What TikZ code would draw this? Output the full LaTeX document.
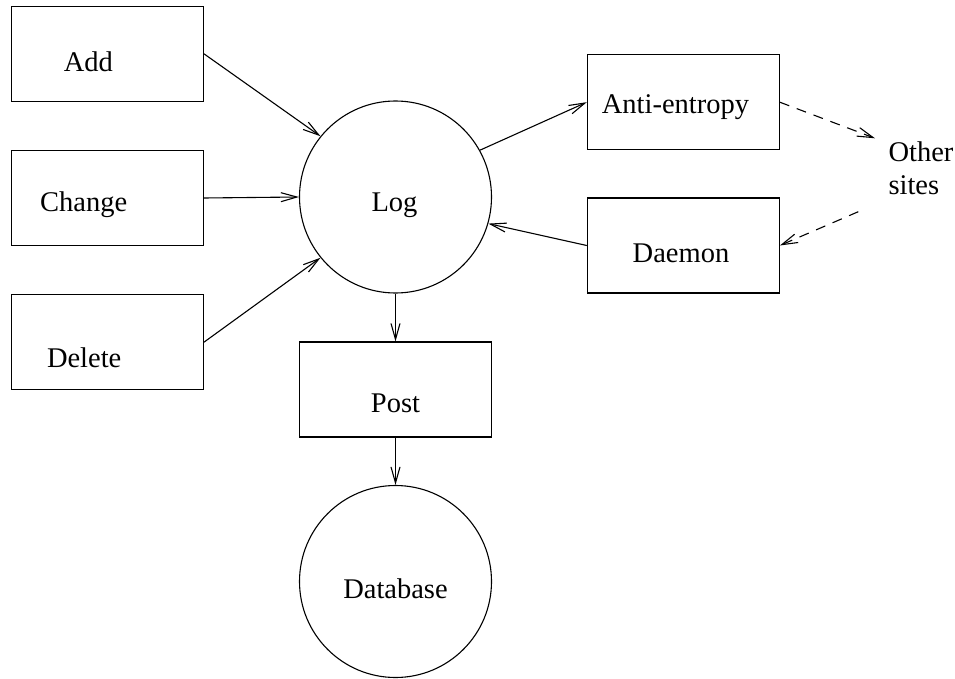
\documentclass[tikz,border=0pt]{standalone}
\usepackage{fontspec}
\setmainfont{Liberation Serif}
\usetikzlibrary{positioning, arrows.meta}
\tikzset{
	box/.style={
		rectangle,
		draw,
		minimum width=192pt,
		minimum height=95pt,
	},
	blob/.style={
		circle,
		draw,
		minimum size=192pt,
	},
	txt/.style={
		anchor=base,
		inner sep=0pt,
	},
	remote/.style={
		->,
		dash pattern=on 10pt off 8pt,
	},
}

\begin{document}
\begin{tikzpicture}[x=1pt, y=-1pt, node distance=144.2pt, line width=1.1pt,
		>={Straight Barb[length=16pt,width=9pt]},
		font=\fontsize{28.5pt}{33.3pt}\selectfont]
		\useasboundingbox (0,0) rectangle (955,679);

		% Place nodes
		\node [box, label={[txt, xshift=-19pt, yshift=-8.2pt]center:Add}] (add) at (107.4,53.8) {};
		\node [box, below of = add, label={[txt, xshift=-23.7pt, yshift=-7pt]center:Change}] (change) {};
		\node [box, below of = change, label={[txt, xshift=-23.2pt, yshift=-16pt]center:Delete}] (delete) {};

		\node [blob, label={[txt, xshift=-1pt, yshift=-8pt]center:Log}] (log) at (395.5,197) {};
		\node [box, below of = log, node distance=192.5pt, label={[txt, yshift=-13.8pt]center:Post}] (post) {};
		\node [blob, below of = post, node distance=192pt, label={[txt, yshift=-7pt]center:Database}] (db) {};

		\node [box, label={[txt, xshift=-7.8pt, yshift=-4.5pt]center:Anti-entropy}] (anti) at (683.3,102.2) {};
		\node [box, below of = anti, node distance=143.3pt, label={[txt, xshift=-2.3pt, yshift=-7.8pt]center:Daemon}] (daemon) {};

		\node [anchor=base west, align=left, inner sep=0pt] (other) at (888,195) {Other\\sites};
		\coordinate (toother) at (875,138.3);
		\coordinate (fromother) at (858.3,211.7);

		% Connectors
		\draw [->] (add.east) -- (log.141);
		\draw [->] (change.east) -- (log.west);
		\draw [->] (delete.east) -- (log.219);

		\draw [->] (log.29) -- (anti.west);
		\draw [->] (daemon.west) -- (log.344);
		\draw [remote] (anti.east) -- (toother);
		\draw [remote] (fromother) -- (daemon.east);

		\draw [->] (log.south) -- (post.north);
		\draw [->] (post.south) -- (db.north);

	\end{tikzpicture}
\end{document}
